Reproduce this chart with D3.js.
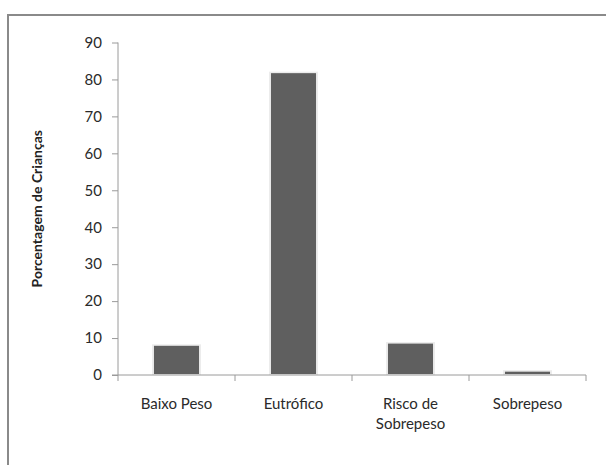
<!DOCTYPE html>
<html><head><meta charset="utf-8">
<script src="https://cdn.jsdelivr.net/npm/d3@7"></script>
<style>body{margin:0;background:#fff}svg{display:block}</style>
</head><body>
<script>
const categories = ["Baixo Peso", "Eutrófico", "Risco de\nSobrepeso", "Sobrepeso"];
const values = [7.9, 81.7, 8.5, 0.9];
const yTicks = [0, 10, 20, 30, 40, 50, 60, 70, 80, 90];
const yTitle = "Porcentagem de Crianças";

const W = 606, H = 465;
const svg = d3.select("body").append("svg").attr("width", W).attr("height", H);
const font = "Lato, 'Open Sans', sans-serif";

// outer frame (only top & left visible)
svg.append("rect").attr("x", 8).attr("y", 15).attr("width", 700).attr("height", 600)
  .attr("fill", "none").attr("stroke", "#8a8a8a").attr("stroke-width", 2);

const x0 = 118, x1 = 586, yBase = 375, yTop = 42.5;
const x = d3.scaleBand().domain(categories).range([x0, x1]).paddingInner(0.615).paddingOuter(0.3075);
const y = d3.scaleLinear().domain([0, 90]).range([yBase, yTop]);

// bars with soft glow
const g = svg.append("g");
g.selectAll("rect.glow").data(values).join("rect")
  .attr("x", (d, i) => x(categories[i]) - 2).attr("width", x.bandwidth() + 4)
  .attr("y", d => y(d) - 1.5).attr("height", d => yBase - y(d) + 1.5)
  .attr("fill", "#ececec");
g.selectAll("rect.bar").data(values).join("rect")
  .attr("x", (d, i) => x(categories[i])).attr("width", x.bandwidth())
  .attr("y", d => y(d)).attr("height", d => yBase - 1 - y(d))
  .attr("fill", "#5f5f5f");

// y axis
const yAxis = d3.axisLeft(y).tickValues(yTicks).tickSize(6).tickPadding(10);
const ya = svg.append("g").attr("transform", `translate(${x0},0)`).call(yAxis);
ya.select(".domain").remove();
ya.selectAll("line").attr("stroke", "#9a9a9a");
ya.append("line").attr("x1", 0).attr("x2", 0).attr("y1", yTop).attr("y2", yBase + 6).attr("stroke", "#9a9a9a");
ya.selectAll("text").attr("font-family", font).attr("font-size", 15).attr("fill", "#2a2a2a");

// x axis
const xa = svg.append("g").attr("transform", `translate(0,${yBase})`);
xa.append("line").attr("x1", x0 - 6).attr("x2", x1).attr("y1", 0).attr("y2", 0).attr("stroke", "#9a9a9a");
const bounds = categories.map(c => x(c) - x.step() * x.paddingInner() / 2 + x.step()).slice(0, 3).concat([x1]);
xa.selectAll("line.t").data(bounds).join("line")
  .attr("x1", d => d).attr("x2", d => d).attr("y1", 0).attr("y2", 6).attr("stroke", "#9a9a9a");
categories.forEach(c => {
  const lines = c.split("\n");
  const t = xa.append("text").attr("text-anchor", "middle")
    .attr("font-family", font).attr("font-size", 15).attr("fill", "#2a2a2a")
    .attr("x", x(c) + x.bandwidth() / 2).attr("y", 34);
  lines.forEach((l, i) => t.append("tspan").attr("x", x(c) + x.bandwidth() / 2).attr("dy", i ? 20 : 0).text(l));
});

// y title
svg.append("text").attr("transform", `translate(42,${(yTop + yBase) / 2}) rotate(-90)`)
  .attr("text-anchor", "middle").attr("font-family", font).attr("font-weight", "bold")
  .attr("font-size", 14).attr("fill", "#222").text(yTitle);
</script>
</body></html>
